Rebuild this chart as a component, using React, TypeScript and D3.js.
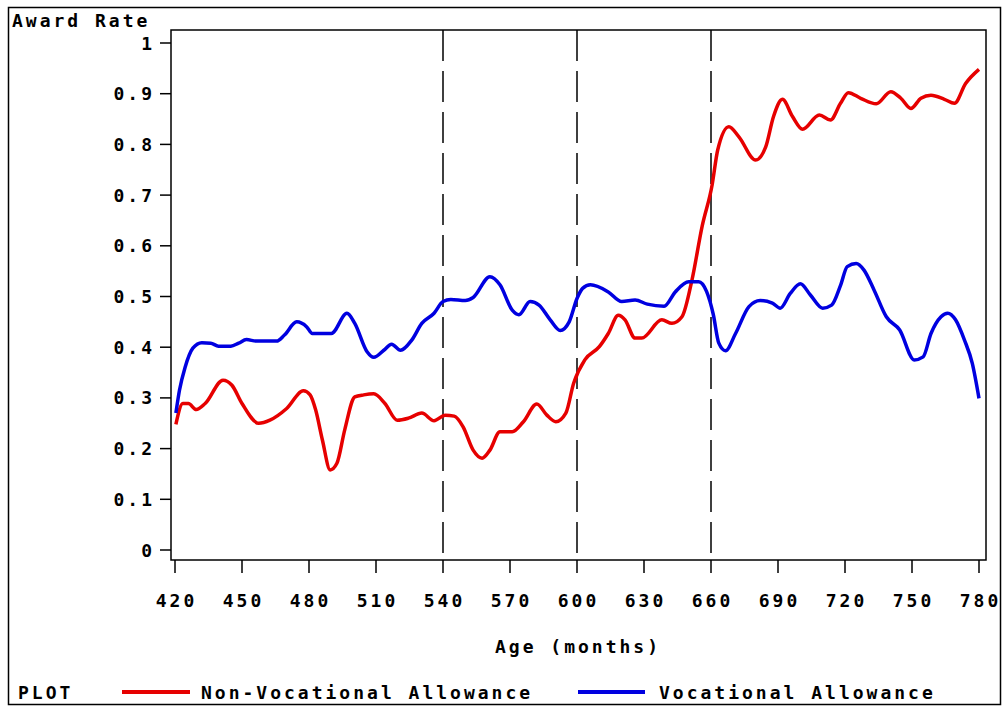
import { useEffect, useRef } from "react";
import * as d3 from "d3";

// Non-Vocational Allowance (red)
const nvMonths = [
  420.4, 423.5, 426, 429.5, 433.5, 441.5, 445.5, 450, 457.5, 462.5, 470, 477.5,
  480.5, 483, 486, 489.5, 492.5, 496, 500.5, 504.5, 509, 514, 519.5, 524.5,
  530.5, 536, 541, 545, 549, 553.5, 557.5, 561, 565.5, 571, 576, 582, 586.5,
  590.5, 595, 598.5, 603.5, 610, 614, 618.5, 621.5, 626, 629, 638, 642.5, 647,
  651.5, 656, 660.5, 663, 668, 672.5, 680, 684.5, 688, 692, 696.5, 701, 708.5,
  713.5, 718, 721.5, 727, 734, 740.5, 745, 749.5, 754, 758.5, 764.5, 769, 774,
  780,
];
const nvRate = [
  0.248, 0.289, 0.289, 0.277, 0.289, 0.335, 0.325, 0.289, 0.25, 0.256, 0.279,
  0.314, 0.306, 0.276, 0.217, 0.158, 0.171, 0.237, 0.302, 0.306, 0.308, 0.289,
  0.256, 0.26, 0.27, 0.255, 0.266, 0.264, 0.243, 0.197, 0.181, 0.197, 0.233,
  0.233, 0.253, 0.288, 0.266, 0.253, 0.27, 0.329, 0.375, 0.401, 0.427, 0.463,
  0.454, 0.418, 0.418, 0.454, 0.447, 0.46, 0.533, 0.638, 0.72, 0.789, 0.835,
  0.815, 0.769, 0.795, 0.855, 0.889, 0.855, 0.83, 0.858, 0.848, 0.881, 0.902,
  0.891, 0.88, 0.904, 0.891, 0.871, 0.891, 0.897, 0.889, 0.881, 0.92, 0.948,
];

// Vocational Allowance (blue)
const vMonths = [
  420.4, 422, 424.5, 428, 432, 436, 439.5, 445, 448.5, 452, 456.5, 465.5, 469,
  474.5, 479, 481.5, 490, 497, 500.5, 506, 509, 513.5, 517, 521, 526, 530.5,
  536, 540, 543.5, 550, 553.5, 561, 565.5, 571, 574, 579, 583, 588, 592.5,
  596.5, 600, 602.5, 606, 614, 620, 626, 631.5, 639, 644, 650, 654.5, 658, 661,
  663.5, 666.5, 671, 677, 682, 687.5, 691, 695.5, 700, 704.5, 710, 714, 718,
  721, 725, 728.5, 733, 738.5, 744.5, 751, 755, 758.5, 763, 766, 769.5, 773.5,
  777, 780,
];
const vRate = [
  0.27, 0.315, 0.36, 0.398, 0.409, 0.408, 0.402, 0.402, 0.408, 0.415, 0.412,
  0.412, 0.424, 0.45, 0.44, 0.427, 0.427, 0.467, 0.447, 0.391, 0.38, 0.394,
  0.406, 0.394, 0.414, 0.447, 0.467, 0.49, 0.494, 0.492, 0.498, 0.539, 0.523,
  0.473, 0.464, 0.49, 0.483, 0.454, 0.433, 0.45, 0.496, 0.516, 0.523, 0.509,
  0.49, 0.493, 0.485, 0.481, 0.509, 0.529, 0.529, 0.51, 0.465, 0.408, 0.393,
  0.427, 0.48, 0.492, 0.487, 0.477, 0.506, 0.525, 0.503, 0.477, 0.483, 0.522,
  0.559, 0.565, 0.552, 0.513, 0.46, 0.434, 0.375, 0.381, 0.427, 0.46, 0.467,
  0.454, 0.414, 0.368, 0.299,
];

const xTicks = [420, 450, 480, 510, 540, 570, 600, 630, 660, 690, 720, 750, 780];
const yTicks = [0, 0.1, 0.2, 0.3, 0.4, 0.5, 0.6, 0.7, 0.8, 0.9, 1];
const refLines = [540, 600, 660];

const RED = "#e60000";
const BLUE = "#0000e0";
const FONT = "'DejaVu Sans Mono', 'Liberation Mono', monospace";

function App() {
  const svgRef = useRef<SVGSVGElement | null>(null);

  useEffect(() => {
    const svg: any = d3.select(svgRef.current);
    svg.selectAll("*").remove();

    const box = { left: 171, top: 30, right: 986, bottom: 560 };
    const x = d3.scaleLinear().domain([420, 780]).range([175, 979]);
    const y = d3.scaleLinear().domain([0, 1]).range([550, 43]);

    const text = (sel: any) =>
      sel
        .style("font-family", FONT)
        .style("font-weight", "bold")
        .style("font-size", "18px")
        .style("letter-spacing", "3px")
        .attr("fill", "#000");

    // outer frame
    svg
      .append("rect")
      .attr("x", 8.5)
      .attr("y", 7.5)
      .attr("width", 992)
      .attr("height", 697)
      .attr("fill", "none")
      .attr("stroke", "#000")
      .attr("stroke-width", 1.5);

    // plot box
    svg
      .append("rect")
      .attr("x", box.left)
      .attr("y", box.top)
      .attr("width", box.right - box.left)
      .attr("height", box.bottom - box.top)
      .attr("fill", "none")
      .attr("stroke", "#000")
      .attr("stroke-width", 1.5);

    // y axis
    svg
      .append("g")
      .selectAll("line")
      .data(yTicks)
      .enter()
      .append("line")
      .attr("x1", box.left - 11)
      .attr("x2", box.left)
      .attr("y1", (d: number) => y(d))
      .attr("y2", (d: number) => y(d))
      .attr("stroke", "#000")
      .attr("stroke-width", 1.5);

    svg
      .append("g")
      .selectAll("text")
      .data(yTicks)
      .enter()
      .append("text")
      .attr("x", 155)
      .attr("y", (d: number) => y(d))
      .attr("text-anchor", "end")
      .attr("dominant-baseline", "central")
      .text((d: number) => d3.format("~g")(d))
      .call(text);

    svg.append("text").attr("x", 12).attr("y", 27).text("Award Rate").call(text);

    // x axis
    svg
      .append("g")
      .selectAll("line")
      .data(xTicks)
      .enter()
      .append("line")
      .attr("x1", (d: number) => x(d))
      .attr("x2", (d: number) => x(d))
      .attr("y1", box.bottom)
      .attr("y2", box.bottom + 13)
      .attr("stroke", "#000")
      .attr("stroke-width", 1.5);

    svg
      .append("g")
      .selectAll("text")
      .data(xTicks)
      .enter()
      .append("text")
      .attr("x", (d: number) => x(d) + 1.5)
      .attr("y", 600)
      .attr("text-anchor", "middle")
      .attr("dominant-baseline", "central")
      .text((d: number) => String(d))
      .call(text);

    svg
      .append("text")
      .attr("x", 578)
      .attr("y", 646)
      .attr("text-anchor", "middle")
      .attr("dominant-baseline", "central")
      .text("Age (months)")
      .call(text);

    // reference lines
    svg
      .append("g")
      .selectAll("line")
      .data(refLines)
      .enter()
      .append("line")
      .attr("x1", (d: number) => x(d))
      .attr("x2", (d: number) => x(d))
      .attr("y1", box.top)
      .attr("y2", box.bottom)
      .attr("stroke", "#000")
      .attr("stroke-width", 1.5)
      .attr("stroke-dasharray", "31 10");

    // series
    const line: any = d3
      .line()
      .x((d: any) => x(d[0]))
      .y((d: any) => y(d[1]))
      .curve(d3.curveMonotoneX);

    const series = [
      { months: nvMonths, rates: nvRate, color: RED },
      { months: vMonths, rates: vRate, color: BLUE },
    ];

    series.forEach((s) => {
      svg
        .append("path")
        .attr("d", line(s.months.map((m, i) => [m, s.rates[i]])))
        .attr("fill", "none")
        .attr("stroke", s.color)
        .attr("stroke-width", 3.5)
        .attr("stroke-linejoin", "round");
    });

    // legend
    const ly = 692;
    svg
      .append("text")
      .attr("x", 18)
      .attr("y", ly)
      .attr("dominant-baseline", "central")
      .text("PLOT")
      .call(text);

    const legend = [
      { label: "Non-Vocational Allowance", color: RED, x1: 122, x2: 190, tx: 201 },
      { label: "Vocational Allowance", color: BLUE, x1: 578, x2: 645, tx: 659 },
    ];
    legend.forEach((l) => {
      svg
        .append("line")
        .attr("x1", l.x1)
        .attr("x2", l.x2)
        .attr("y1", ly)
        .attr("y2", ly)
        .attr("stroke", l.color)
        .attr("stroke-width", 4);
      svg
        .append("text")
        .attr("x", l.tx)
        .attr("y", ly)
        .attr("dominant-baseline", "central")
        .text(l.label)
        .call(text);
    });
  }, []);

  return (
    <div style={{ position: "absolute", left: 0, top: 0 }}>
      <svg ref={svgRef} width={1008} height={707} style={{ display: "block", background: "#fff" }}></svg>
    </div>
  );
}

export default App;
